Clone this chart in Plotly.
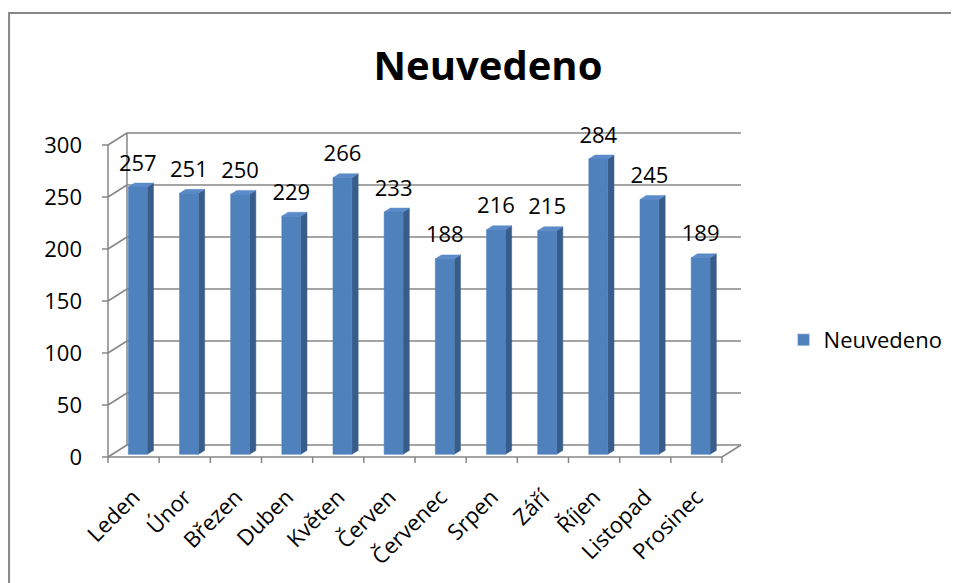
import plotly.graph_objects as go

# data
mois = ["Leden", "Únor", "Březen", "Duben", "Květen", "Červen",
        "Červenec", "Srpen", "Září", "Říjen", "Listopad", "Prosinec"]
hodnoty = [257, 251, 250, 229, 266, 233, 188, 216, 215, 284, 245, 189]
osa_y = [0, 50, 100, 150, 200, 250, 300]
nazev = "Neuvedeno"

# geometrie "3D" (pixely -> jednotky dat)
OFF = 8                # okraj stranky (body margin)
FW, FH = 959 - OFF, 583 - OFF
PX_CAT = 51.2          # px na kategorii
PX_UNIT = 1.04         # px na jednotku hodnoty
DX = 19 / PX_CAT       # hloubka zadni steny v ose x
DY = 12 / PX_UNIT      # hloubka zadni steny v ose y
D0, D1 = 0.22, 0.55    # hloubka predni / zadni steny sloupce
HW = 0.185             # polovina sirky sloupce
n = len(mois)
ymax = osa_y[-1]

padL, padR, padB, padT = 8, 3, 8, 3
x_lo = -0.5 - padL / PX_CAT
x_hi = n - 0.5 + DX + padR / PX_CAT
y_lo = -padB / PX_UNIT
y_hi = ymax + DY + padT / PX_UNIT
L = 108 - padL - OFF
B = 583 - (457 + padB)
W = (x_hi - x_lo) * PX_CAT
H = (y_hi - y_lo) * PX_UNIT
T = FH - B - H
R = FW - L - W


def px_x(p):
    return (p - OFF - L) / W


def px_y(p):
    return (FH - B - (p - OFF)) / H


# mrizka a steny
gx, gy = [], []
for t in osa_y:
    gx += [-0.5 + DX, n - 0.5 + DX, None]
    gy += [t + DY, t + DY, None]
    gx += [-0.5, -0.5 + DX, None]
    gy += [t, t + DY, None]
    gx += [-0.5 - 6 / PX_CAT, -0.5, None]
    gy += [t, t, None]
gx += [-0.5 + DX, -0.5 + DX, None, -0.5, -0.5, None, -0.5, n - 0.5, n - 0.5 + DX, None]
gy += [DY, ymax + DY, None, 0, ymax, None, 0, 0, DY, None]
for k in range(n + 1):
    gx += [k - 0.5, k - 0.5, None]
    gy += [0, -6 / PX_UNIT, None]

# steny sloupcu
fx, fy, sx, sy, tx, ty = [], [], [], [], [], []
ddx, ddy = DX * (D1 - D0), DY * (D1 - D0)
for i, v in enumerate(hodnoty):
    x0 = i + DX * D0 - HW
    x1 = i + DX * D0 + HW
    y0 = DY * D0
    y1 = v + DY * D0
    fx += [x0, x1, x1, x0, x0, None]
    fy += [y0, y0, y1, y1, y0, None]
    sx += [x1, x1 + ddx, x1 + ddx, x1, x1, None]
    sy += [y0, y0 + ddy, y1 + ddy, y1, y0, None]
    tx += [x0, x1, x1 + ddx, x0 + ddx, x0, None]
    ty += [y1, y1, y1 + ddy, y1 + ddy, y1, None]

fig = go.Figure()
fig.add_trace(go.Scatter(x=gx, y=gy, mode="lines", line=dict(color="#868686", width=1.5),
                         showlegend=False, hoverinfo="skip"))
fig.add_trace(go.Scatter(x=sx, y=sy, mode="lines", fill="toself", fillcolor="#385d8a",
                         line=dict(color="#385d8a", width=0.5), showlegend=False, hoverinfo="skip"))
fig.add_trace(go.Scatter(x=tx, y=ty, mode="lines", fill="toself", fillcolor="#5b8bc9",
                         line=dict(color="#5b8bc9", width=0.5), showlegend=False, hoverinfo="skip"))
fig.add_trace(go.Scatter(x=fx, y=fy, mode="lines", fill="toself", fillcolor="#4f81bd",
                         line=dict(color="#4f81bd", width=0.5), showlegend=False, hoverinfo="skip"))
fig.add_trace(go.Scatter(
    x=[i + DX * D0 for i in range(n)],
    y=[v + DY * D1 + 7 / PX_UNIT for v in hodnoty],
    mode="text", text=[str(v) for v in hodnoty], textposition="top center",
    textfont=dict(family="Open Sans", size=22, color="#000000"),
    cliponaxis=False, showlegend=False, hoverinfo="skip"))
# polozka legendy
fig.add_trace(go.Bar(x=[0], y=[0], name=nazev, marker_color="#4f81bd", showlegend=True))

fig.update_layout(
    width=FW, height=FH,
    margin=dict(l=L, r=R, t=T, b=B, autoexpand=False),
    paper_bgcolor="white", plot_bgcolor="white",
    title=dict(text="<b>" + nazev + "</b>", x=(488 - OFF) / FW, xanchor="center",
               y=1 - (66 - OFF) / FH, yanchor="middle", yref="container",
               font=dict(family="Open Sans", size=40, color="#000000")),
    xaxis=dict(range=[x_lo, x_hi], tickvals=list(range(n)), ticktext=mois,
               tickangle=-45, showgrid=False, zeroline=False, showline=False, ticks="",
               ticklabelstandoff=14,
               tickfont=dict(family="Open Sans", size=22, color="#000000")),
    yaxis=dict(range=[y_lo, y_hi], tickvals=osa_y, showgrid=False, zeroline=False,
               showline=False, ticks="", ticklabelstandoff=17,
               tickfont=dict(family="Open Sans", size=22, color="#000000")),
    legend=dict(x=px_x(784), y=px_y(340), xanchor="left", yanchor="middle",
                font=dict(family="Open Sans", size=22, color="#000000"),
                bgcolor="rgba(0,0,0,0)"),
    shapes=[dict(type="rect", xref="paper", yref="paper",
                 x0=px_x(9), x1=px_x(975), y0=px_y(600), y1=px_y(13),
                 line=dict(color="#868686", width=2))],
)

fig.write_html("out.html")
